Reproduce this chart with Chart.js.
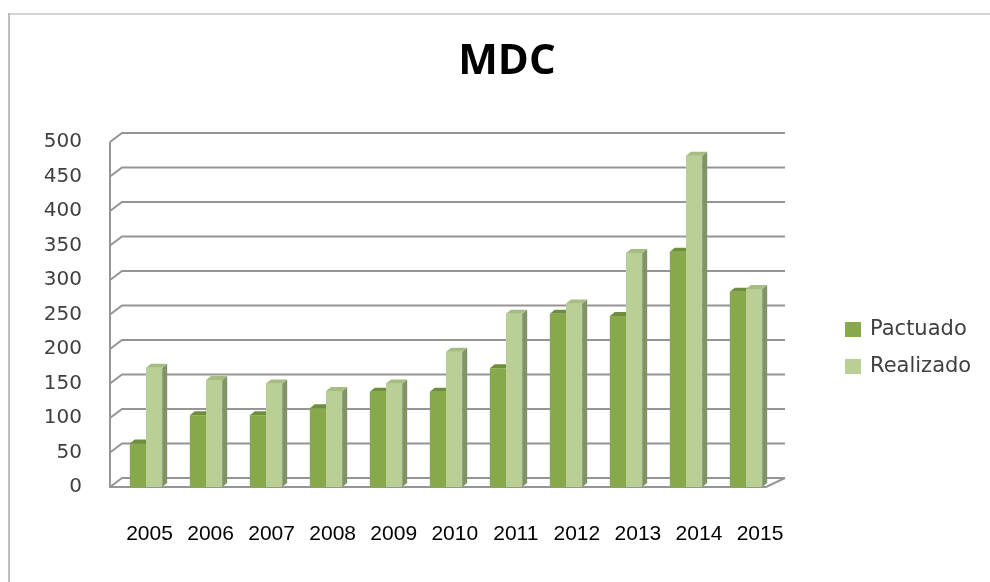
<!DOCTYPE html>
<html>
<head>
<meta charset="utf-8">
<script src="https://cdn.jsdelivr.net/npm/chart.js@4/dist/chart.umd.min.js"></script>
<style>
  html, body { margin: 0; padding: 0; background: #fff; }
  canvas { display: block; }
</style>
</head>
<body>
<canvas id="chart" width="990" height="582"></canvas>
<script>
const categories = ['2005', '2006', '2007', '2008', '2009', '2010', '2011', '2012', '2013', '2014', '2015'];
const pactuado = [63, 104, 104, 114, 138, 138, 172, 251, 248, 341, 283];
const realizado = [173, 155, 150, 139, 150, 196, 251, 266, 339, 480, 287];
const yTickValues = [0, 50, 100, 150, 200, 250, 300, 350, 400, 450, 500];

const seriesStyle = [
  { front: '#87a84b', side: '#5f7a33', top: '#6f8e3c' },
  { front: '#b9cf95', side: '#82936a', top: '#a5bd80' }
];

function drawDepth(ctx, bar, st) {
  const d = 5, h = 4;
  const p = bar.getProps(['x', 'y', 'base', 'width'], true);
  const l = p.x - p.width / 2, r = p.x + p.width / 2;
  ctx.fillStyle = st.side;
  ctx.beginPath();
  ctx.moveTo(r, p.y);
  ctx.lineTo(r + d, p.y - h);
  ctx.lineTo(r + d, p.base - h);
  ctx.lineTo(r, p.base);
  ctx.closePath();
  ctx.fill();
  ctx.fillStyle = st.top;
  ctx.beginPath();
  ctx.moveTo(l, p.y);
  ctx.lineTo(l + d, p.y - h);
  ctx.lineTo(r + d, p.y - h);
  ctx.lineTo(r, p.y);
  ctx.closePath();
  ctx.fill();
}

// Excel-like 3D look: back wall gridlines, floor, bar sides and tops
const wallPlugin = {
  id: 'wall3d',
  beforeDatasetsDraw(chart) {
    const { ctx, chartArea, scales } = chart;
    const x0 = chartArea.left - 6;
    const dx = 12, dy = -9;
    const backRight = chartArea.right + 9;
    ctx.save();
    ctx.strokeStyle = '#959595';
    ctx.lineWidth = 2;
    yTickValues.forEach(v => {
      const y = scales.y.getPixelForValue(v);
      ctx.beginPath();
      ctx.moveTo(x0, y);
      ctx.lineTo(x0 + dx, y + dy);
      ctx.lineTo(backRight, y + dy);
      ctx.stroke();
    });
    const yTop = scales.y.getPixelForValue(yTickValues[yTickValues.length - 1]);
    const yBot = scales.y.getPixelForValue(0);
    ctx.beginPath();
    ctx.moveTo(x0, yTop);
    ctx.lineTo(x0, yBot);
    ctx.lineTo(chartArea.right - 10, yBot);
    ctx.lineTo(backRight, yBot + dy);
    ctx.stroke();
    ctx.restore();
  },
  afterDatasetsDraw(chart) {
    const { ctx } = chart;
    const metaP = chart.getDatasetMeta(0);
    const metaR = chart.getDatasetMeta(1);
    ctx.save();
    metaP.data.forEach(bar => drawDepth(ctx, bar, seriesStyle[0]));
    // redraw Realizado on top so its face hides the Pactuado side
    metaR.data.forEach(bar => bar.draw(ctx, chart.chartArea));
    metaR.data.forEach(bar => drawDepth(ctx, bar, seriesStyle[1]));
    ctx.restore();
  }
};

const framePlugin = {
  id: 'frame',
  beforeDraw(chart) {
    const { ctx, width, height } = chart;
    ctx.save();
    ctx.fillStyle = '#fff';
    ctx.fillRect(0, 0, width, height);
    ctx.strokeStyle = '#d4d4d4';
    ctx.lineWidth = 2;
    ctx.beginPath();
    ctx.moveTo(9, 14);
    ctx.lineTo(width, 14);
    ctx.stroke();
    ctx.strokeStyle = '#bdbdbd';
    ctx.beginPath();
    ctx.moveTo(9, 13);
    ctx.lineTo(9, height);
    ctx.stroke();
    ctx.restore();
  }
};

const textPlugin = {
  id: 'titleAndLegend',
  afterDraw(chart) {
    const { ctx, chartArea } = chart;
    ctx.save();
    ctx.fillStyle = '#000';
    ctx.textAlign = 'center';
    ctx.textBaseline = 'middle';
    ctx.font = "bold 42px 'Open Sans', sans-serif";
    ctx.fillText('MDC', 507, 62);

    const x = chartArea.right + 69;
    ctx.textAlign = 'left';
    ctx.font = "21px 'DejaVu Sans', sans-serif";
    chart.data.datasets.forEach((ds, i) => {
      const cy = 329 + i * 37;
      ctx.fillStyle = ds.backgroundColor;
      ctx.fillRect(x, cy - 7, 16, 15);
      ctx.fillStyle = '#404040';
      ctx.fillText(ds.label, x + 25, cy + 1);
    });
    ctx.restore();
  }
};

new Chart(document.getElementById('chart'), {
  type: 'bar',
  data: {
    labels: categories,
    datasets: [
      {
        label: 'Pactuado',
        data: pactuado,
        backgroundColor: seriesStyle[0].front,
        barPercentage: 1,
        categoryPercentage: 0.54,
        xAxisID: 'x',
        yAxisID: 'y'
      },
      {
        label: 'Realizado',
        data: realizado,
        backgroundColor: seriesStyle[1].front,
        barPercentage: 1,
        categoryPercentage: 0.54,
        xAxisID: 'x',
        yAxisID: 'y'
      }
    ]
  },
  options: {
    responsive: false,
    animation: false,
    layout: { padding: { top: 142, left: 24, right: 214, bottom: 0 } },
    plugins: {
      legend: { display: false },
      tooltip: { enabled: false },
      title: { display: false }
    },
    scales: {
      x: {
        type: 'category',
        display: false
      },
      // year labels sit slightly off the bar groups in the original
      xLabels: {
        type: 'linear',
        position: 'bottom',
        offset: false,
        min: -0.549,
        max: 10.262,
        grid: { display: false, drawTicks: false, offset: false },
        border: { display: false },
        afterBuildTicks: (scale) => {
          scale.ticks = categories.map((c, i) => ({ value: i }));
        },
        afterFit: (scale) => { scale.height = 95; },
        ticks: {
          autoSkip: false,
          maxRotation: 0,
          padding: 35,
          color: '#000',
          font: { family: "'Liberation Sans', sans-serif", size: 21 },
          callback: (v) => categories[v] ?? ''
        }
      },
      y: {
        min: 0,
        max: 500,
        grid: { display: false, drawTicks: false },
        border: { display: false },
        afterBuildTicks: (scale) => {
          scale.ticks = yTickValues.map(v => ({ value: v }));
        },
        afterFit: (scale) => { scale.width = 92; },
        ticks: {
          padding: 34,
          color: '#404040',
          font: { family: "'DejaVu Sans', sans-serif", size: 20 }
        }
      }
    }
  },
  plugins: [framePlugin, wallPlugin, textPlugin]
});
</script>
</body>
</html>
